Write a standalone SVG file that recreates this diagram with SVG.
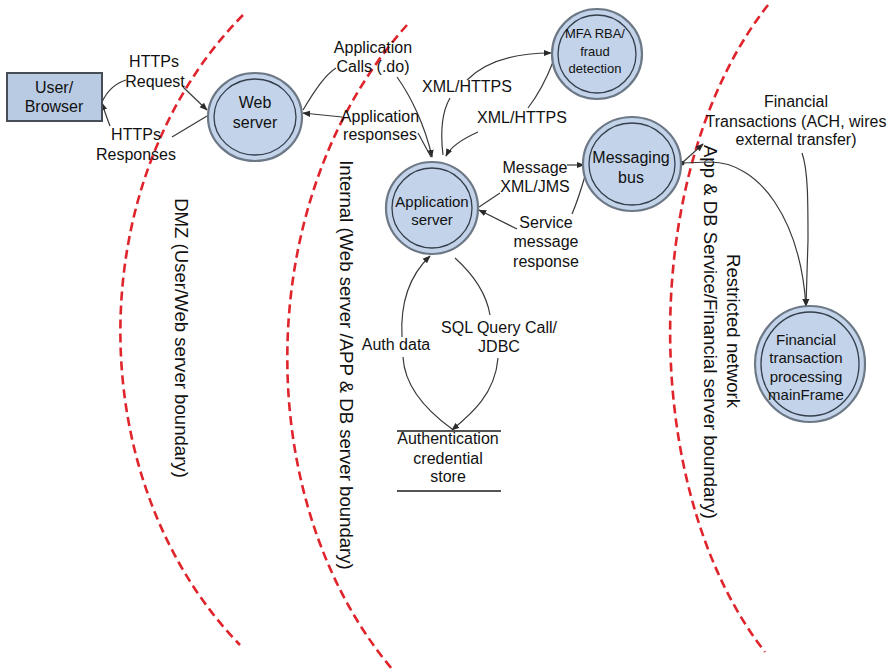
<svg xmlns="http://www.w3.org/2000/svg" width="891" height="669" viewBox="0 0 891 669">
<defs>
<marker id="arr" viewBox="0 0 10 10" refX="9" refY="5" markerWidth="8" markerHeight="8" markerUnits="userSpaceOnUse" orient="auto"><path d="M0,1 L10,5 L0,9 z" fill="#2a2a2a"/></marker>
<marker id="dot" viewBox="0 0 10 10" refX="5" refY="5" markerWidth="5" markerHeight="5" markerUnits="userSpaceOnUse"><circle cx="5" cy="5" r="5" fill="#2a2a2a"/></marker>
<style>
.t{font-family:"Liberation Sans",Arial,sans-serif;font-size:16px;fill:#111;text-anchor:middle}
.s15{font-size:15px}
.s13{font-size:13px}
.rot{font-size:18.6px}
.bd{fill:none;stroke:#e0242c;stroke-width:2.6;stroke-dasharray:9 5}
.c{fill:none;stroke:#3a3a3a;stroke-width:1.2}
.ca{fill:none;stroke:#3a3a3a;stroke-width:1.2;marker-end:url(#arr)}
.outer{fill:#c2d3ea;stroke:#6d7886;stroke-width:2.2}
.inner{fill:none;stroke:#353f4c;stroke-width:1.3}
.store{stroke:#555;stroke-width:2}
</style>
</defs>
<rect width="891" height="669" fill="#fff"/>

<g id="boundaries">
<path class="bd" d="M243,15 C80,180 80,480 240,645"/>
<path class="bd" d="M407,25 C250,200 250,500 392,669"/>
<path class="bd" d="M768,5 C638,170 638,490 765,652"/>
<text class="t rot" transform="translate(175,338) rotate(90)">DMZ (User/Web server boundary)</text>
<text class="t rot" transform="translate(340,365) rotate(90)">Internal (Web server /APP &amp; DB server boundary)</text>
<text class="t rot" transform="translate(727,331) rotate(90)">Restricted network</text>
<text class="t rot" transform="translate(704,332) rotate(90)">App &amp; DB Service/Financial server boundary)</text>
</g>

<g id="connectors">
<!-- HTTPs Request -->
<path class="c" d="M102,102 Q110,85 126,80"/>
<path class="ca" d="M183,87 L207,110"/>
<!-- HTTPs Responses -->
<path class="c" d="M207,116 L172,137"/>
<path class="ca" d="M110,126 Q105,113 102,103"/>
<!-- Application Calls -->
<path class="c" d="M303,110 C315,90 325,75 336,68"/>
<path class="ca" d="M397,77 C410,95 425,125 432,157"/>
<!-- Application responses -->
<path class="c" d="M431,157 L418,133"/>
<path class="ca" d="M342,117 L303,113"/>
<!-- XML/HTTPS app -> MFA -->
<path class="c" d="M443,155 C440,130 443,110 450,98"/>
<path class="ca" d="M467,80 C485,62 515,53 551,53"/>
<!-- XML/HTTPS MFA -> app -->
<path class="c" d="M553,62 C546,80 538,95 528,108"/>
<path class="ca" d="M478,132 C460,140 450,148 446,156"/>
<!-- Message XML/JMS -->
<path class="c" d="M479,207 L500,193"/>
<path class="ca" d="M567,165 L584,165"/>
<!-- Service message response -->
<path class="c" d="M585,176 Q578,200 572,214"/>
<path class="ca" d="M517,229 L479,210"/>
<!-- Auth data -->
<path class="c" d="M452,429 Q405,395 403,357"/>
<path class="ca" d="M402,337 C400,300 410,275 430,256"/>
<!-- SQL Query -->
<path class="c" d="M455,258 Q485,285 490,315"/>
<path class="ca" d="M498,358 C495,395 470,415 452,430"/>
<!-- Financial Transactions -->
<path class="ca" d="M682,163 L703,144" style="marker-start:url(#dot)"/>
<path class="ca" d="M682,163 L710,162 C760,162 800,220 806,306"/>
<path class="ca" d="M802,153 C808,170 808,200 808,240 L806,306"/>
</g>

<g id="labels">
<text class="t" x="154" y="67">HTTPs</text>
<text class="t" x="155" y="87">Request</text>
<text class="t" x="136" y="140">HTTPs</text>
<text class="t" x="136" y="160">Responses</text>
<text class="t" x="373" y="53">Application</text>
<text class="t" x="373" y="72">Calls (.do)</text>
<text class="t" x="380" y="122">Application</text>
<text class="t" x="380" y="140">responses</text>
<text class="t" x="467" y="92">XML/HTTPS</text>
<text class="t" x="522" y="123">XML/HTTPS</text>
<text class="t" x="535" y="173">Message</text>
<text class="t" x="535" y="192">XML/JMS</text>
<text class="t" x="546" y="228">Service</text>
<text class="t" x="546" y="247">message</text>
<text class="t" x="546" y="267">response</text>
<text class="t" x="396" y="350">Auth data</text>
<text class="t" x="499" y="333">SQL Query Call/</text>
<text class="t" x="499" y="352">JDBC</text>
<text class="t" x="796" y="107">Financial</text>
<text class="t" x="796" y="127">Transactions (ACH, wires</text>
<text class="t" x="796" y="145">external transfer)</text>
</g>

<g id="user-browser">
<rect x="7" y="73" width="95" height="48" fill="#b9cbe3" stroke="#474d56" stroke-width="2"/>
<text class="t" x="54" y="93">User/</text>
<text class="t" x="54" y="112">Browser</text>
</g>

<g id="web-server">
<ellipse class="outer" cx="255" cy="117" rx="47" ry="44"/>
<ellipse class="inner" cx="255" cy="117" rx="41" ry="38"/>
<text class="t" x="255" y="108">Web</text>
<text class="t" x="255" y="128">server</text>
</g>

<g id="mfa">
<circle class="outer" cx="597" cy="54" r="45"/>
<circle class="inner" cx="597" cy="54" r="39"/>
<text class="t s13" x="595" y="38">MFA RBA/</text>
<text class="t s13" x="595" y="56">fraud</text>
<text class="t s13" x="595" y="73">detection</text>
</g>

<g id="app-server">
<circle class="outer" cx="432" cy="208" r="46"/>
<circle class="inner" cx="432" cy="208" r="40"/>
<text class="t s15" x="432" y="207">Application</text>
<text class="t s15" x="432" y="225">server</text>
</g>

<g id="messaging-bus">
<ellipse class="outer" cx="632" cy="164" rx="49" ry="47"/>
<ellipse class="inner" cx="632" cy="164" rx="43" ry="41"/>
<text class="t" x="631" y="163">Messaging</text>
<text class="t" x="631" y="183">bus</text>
</g>

<g id="mainframe">
<ellipse class="outer" cx="810" cy="364" rx="55" ry="58"/>
<ellipse class="inner" cx="810" cy="364" rx="49" ry="52"/>
<text class="t s15" x="806" y="345">Financial</text>
<text class="t s15" x="806" y="363">transaction</text>
<text class="t s15" x="806" y="382">processing</text>
<text class="t s15" x="806" y="400">mainFrame</text>
</g>

<g id="auth-store">
<line class="store" x1="397" y1="431" x2="501" y2="431"/>
<line class="store" x1="397" y1="491" x2="501" y2="491"/>
<text class="t" x="448" y="444">Authentication</text>
<text class="t" x="448" y="464">credential</text>
<text class="t" x="448" y="482">store</text>
</g>
</svg>
